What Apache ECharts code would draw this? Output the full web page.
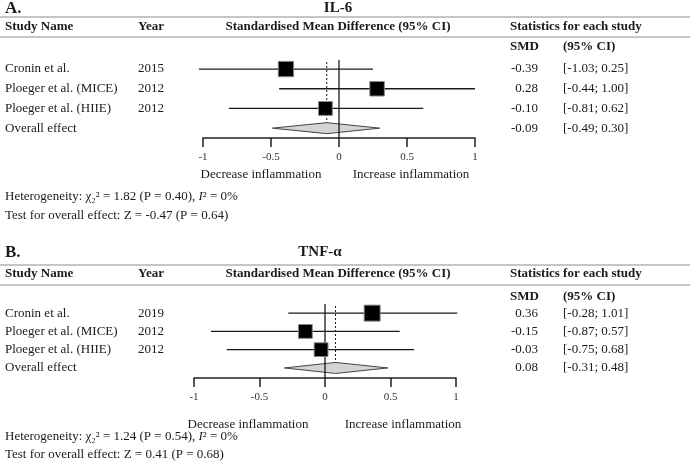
<!DOCTYPE html>
<html>
<head>
<meta charset="utf-8">
<script src="https://cdn.jsdelivr.net/npm/echarts@6/dist/echarts.min.js"></script>
<style>
  html, body { margin: 0; background: #fff; }
  #chart { width: 700px; height: 470px; }
</style>
</head>
<body>
<div id="chart"></div>
<script>
// 研究名称
const studies = ['Cronin et al.', 'Ploeger et al. (MICE)', 'Ploeger et al. (HIIE)']
const overallName = 'Overall effect'
const ticks = [-1, -0.5, 0, 0.5, 1]

// A. IL-6
const yearsA = ['2015', '2012', '2012']
const smdA = [-0.39, 0.28, -0.10]
const lowA = [-1.03, -0.44, -0.81]
const highA = [0.25, 1.00, 0.62]
const weightA = [37, 33, 30]
const overallA = [-0.09, -0.49, 0.30]
const hetA = ['1.82', '0.40', '0%']
const testA = ['-0.47', '0.64']

// B. TNF-α
const yearsB = ['2019', '2012', '2012']
const smdB = [0.36, -0.15, -0.03]
const lowB = [-0.28, -0.87, -0.75]
const highB = [1.01, 0.57, 0.68]
const weightB = [40, 30, 30]
const overallB = [0.08, -0.31, 0.48]
const hetB = ['1.24', '0.54', '0%']
const testB = ['0.41', '0.68']

const FONT = '"Liberation Serif", "Times New Roman", serif'
const INK = '#1a1a1a'

const chart = echarts.init(document.getElementById('chart'), null, { renderer: 'canvas' })

const fmt = v => v.toFixed(2)
const ci = (l, h) => `[${fmt(l)}; ${fmt(h)}]`

// 单个研究：置信区间线 + 方块
function renderStudy(params, api) {
  const y = api.value(3)
  const p = api.coord([api.value(0), y])
  const l = api.coord([api.value(1), y])
  const h = api.coord([api.value(2), y])
  const s = 2.53 * Math.sqrt(api.value(4))
  return {
    type: 'group',
    children: [
      { type: 'line', shape: { x1: l[0], y1: l[1], x2: h[0], y2: h[1] }, style: { stroke: INK, lineWidth: 1.3 } },
      { type: 'rect', shape: { x: p[0] - s / 2, y: p[1] - s / 2, width: s, height: s }, style: { fill: '#000', stroke: '#8a8a8a', lineWidth: 1 } },
    ],
  }
}

// 合并效应菱形
function renderDiamond(params, api) {
  const row = api.value(3)
  const c = api.coord([api.value(0), row])
  const l = api.coord([api.value(1), row])
  const h = api.coord([api.value(2), row])
  const hh = 5.5
  return {
    type: 'polygon',
    shape: { points: [[l[0], c[1]], [c[0], c[1] - hh], [h[0], c[1]], [c[0], c[1] + hh]] },
    style: { fill: '#d4d4d4', stroke: '#444', lineWidth: 1 },
  }
}

// 合并效应虚线
function renderDotted(params, api) {
  const cs = params.coordSys
  const c = api.coord([api.value(0), api.value(3)])
  return {
    type: 'line',
    shape: { x1: c[0], y1: cs.y + 2, x2: c[0], y2: c[1] },
    style: { stroke: INK, lineWidth: 1, lineDash: [2, 2] },
  }
}

// 零线
function renderZero(params, api) {
  const cs = params.coordSys
  const x = api.coord([api.value(0), 0])[0]
  return {
    type: 'line',
    shape: { x1: x, y1: cs.y, x2: x, y2: cs.y + cs.height },
    style: { stroke: INK, lineWidth: 1.3 },
  }
}

// 表格文字
function makeTableRenderer(names, years, smd, low, high) {
  return function (params, api) {
    const i = params.dataIndex
    const y = api.coord([0, api.value(0)])[1]
    const t = (text, x, align) => ({
      type: 'text',
      style: { text, x, y, font: `13px ${FONT}`, fill: INK, align: align || 'left', verticalAlign: 'middle', textAlign: align || 'left', textVerticalAlign: 'middle' },
    })
    return {
      type: 'group',
      children: [
        t(names[i], 5),
        t(years[i] || '', 138),
        t(fmt(smd[i]), 538, 'right'),
        t(ci(low[i], high[i]), 563),
      ],
    }
  }
}

function panelSeries(idx, years, smd, low, high, weight, overall) {
  const studyData = studies.map((s, i) => [smd[i], low[i], high[i], i, weight[i]])
  const overallRow = [[overall[0], overall[1], overall[2], studies.length]]
  const names = [...studies, overallName]
  const allSmd = [...smd, overall[0]]
  const allLow = [...low, overall[1]]
  const allHigh = [...high, overall[2]]
  const axes = { xAxisIndex: idx, yAxisIndex: idx, silent: true, animation: false }
  return [
    { ...axes, type: 'custom', z: 1, renderItem: renderDotted, data: overallRow },
    { ...axes, type: 'custom', z: 2, renderItem: renderDiamond, data: overallRow },
    { ...axes, type: 'custom', z: 3, renderItem: renderZero, data: [[0]] },
    { ...axes, type: 'custom', z: 4, renderItem: renderStudy, data: studyData },
    { ...axes, type: 'custom', z: 5, renderItem: makeTableRenderer(names, years, allSmd, allLow, allHigh), data: names.map((n, i) => [i]) },
  ]
}

function xAxisCfg(idx) {
  return {
    type: 'value',
    gridIndex: idx,
    min: ticks[0],
    max: ticks[ticks.length - 1],
    interval: 0.5,
    splitLine: { show: false },
    axisLine: { show: true, onZero: false, lineStyle: { color: '#222', width: 1.5 } },
    axisTick: { show: true, length: 9, lineStyle: { color: '#222', width: 1.5 } },
    axisLabel: { margin: 14, fontSize: 11, color: '#333', fontFamily: FONT, showMinLabel: true, showMaxLabel: true },
  }
}

function txt(text, x, y, opts) {
  const o = opts || {}
  return {
    type: 'text',
    silent: true,
    style: {
      text, x, y,
      font: `${o.bold ? 'bold ' : ''}${o.size || 13}px ${FONT}`,
      fill: INK,
      align: o.align || 'left',
      verticalAlign: 'middle',
      textAlign: o.align || 'left',
      textVerticalAlign: 'middle',
      rich: o.rich,
    },
  }
}

function hline(y) {
  return { type: 'line', silent: true, shape: { x1: 0, y1: y, x2: 690, y2: y }, style: { stroke: '#8c8c8c', lineWidth: 1 } }
}

const rich = { i: { fontStyle: 'italic', fontSize: 13, fontFamily: FONT, color: INK } }

function panelGraphic(letter, title, titleX, top, h1, h2, head, smdY, footY, decX, incX, hetY, testY, het, test) {
  return [
    txt(letter, 5, top, { bold: true, size: 17 }),
    txt(title, titleX, top - 1, { bold: true, size: 15, align: 'center' }),
    hline(h1),
    txt('Study Name', 5, head, { bold: true }),
    txt('Year', 138, head, { bold: true }),
    txt('Standardised Mean Difference (95% CI)', 338, head, { bold: true, align: 'center' }),
    txt('Statistics for each study', 510, head, { bold: true }),
    hline(h2),
    txt('SMD', 510, smdY, { bold: true }),
    txt('(95% CI)', 563, smdY, { bold: true }),
    txt('Decrease inflammation', decX, footY, { align: 'center' }),
    txt('Increase inflammation', incX, footY, { align: 'center' }),
    txt(`Heterogeneity: \u03c7\u2082\u00b2 = ${het[0]} (P = ${het[1]}), {i|I}\u00b2 = ${het[2]}`, 5, hetY, { rich }),
    txt(`Test for overall effect: Z = ${test[0]} (P = ${test[1]})`, 5, testY),
  ]
}

const option = {
  backgroundColor: '#fff',
  animation: false,
  textStyle: { fontFamily: FONT },
  grid: [
    { left: 203, width: 272, top: 60, height: 78 },
    { left: 194, width: 262, top: 304, height: 74 },
  ],
  xAxis: [xAxisCfg(0), xAxisCfg(1)],
  yAxis: [
    { type: 'value', gridIndex: 0, inverse: true, min: -0.46, max: 3.5, show: false },
    { type: 'value', gridIndex: 1, inverse: true, min: -0.5, max: 3.55, show: false },
  ],
  graphic: [
    ...panelGraphic('A.', 'IL-6', 338, 9, 17, 37, 27, 47, 175, 261, 411, 197, 216, hetA, testA),
    ...panelGraphic('B.', 'TNF-\u03b1', 320, 253, 265, 285, 274, 297, 425, 248, 403, 437, 455, hetB, testB),
  ],
  series: [
    ...panelSeries(0, yearsA, smdA, lowA, highA, weightA, overallA),
    ...panelSeries(1, yearsB, smdB, lowB, highB, weightB, overallB),
  ],
}

chart.setOption(option)
</script>
</body>
</html>
